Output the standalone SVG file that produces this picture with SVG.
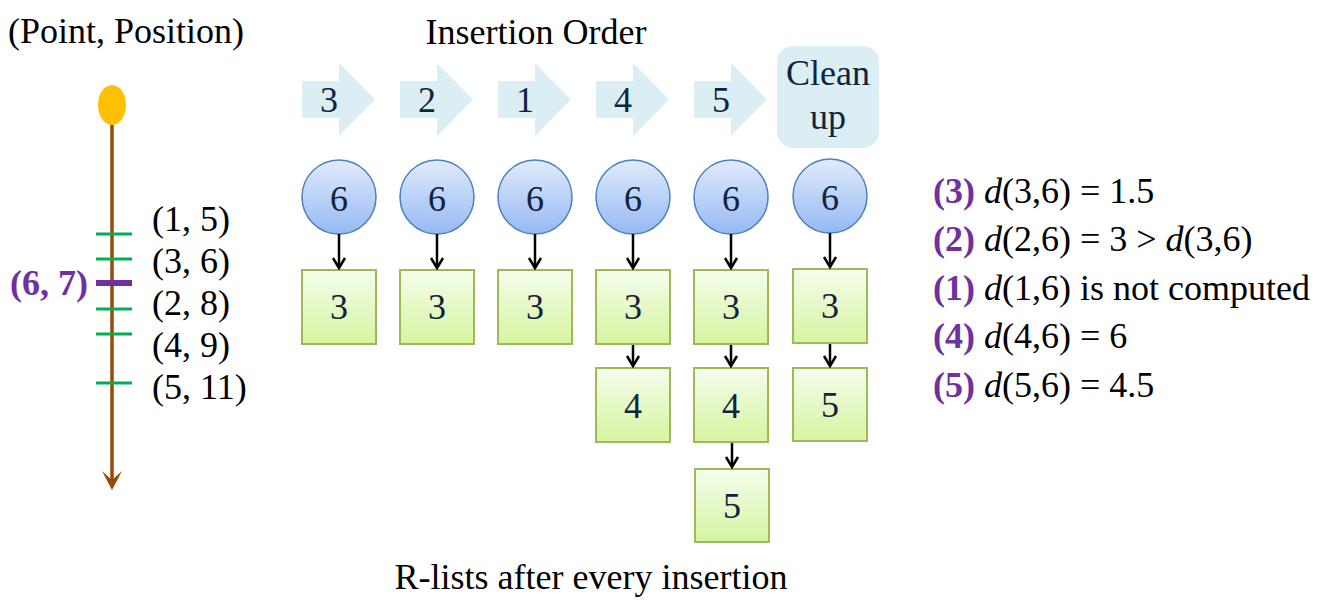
<svg xmlns="http://www.w3.org/2000/svg" width="1329" height="605" viewBox="0 0 1329 605">
<defs>
<linearGradient id="gc" x1="0" y1="0" x2="0" y2="1"><stop offset="0" stop-color="#e1ebfc"/><stop offset="1" stop-color="#95b9f3"/></linearGradient>
<linearGradient id="gs" x1="0" y1="0" x2="0" y2="1"><stop offset="0" stop-color="#f5fdec"/><stop offset="1" stop-color="#d6f4a0"/></linearGradient>
<marker id="ah" viewBox="0 0 14 14" refX="7" refY="12" markerWidth="14" markerHeight="14" markerUnits="userSpaceOnUse" orient="auto-start-reverse">
</marker>
</defs>
<style>
text{font-family:"Liberation Serif","Times New Roman",serif;font-size:36px;fill:#000}
.c{fill:url(#gc);stroke:#4f81bd;stroke-width:1.5}
.s{fill:url(#gs);stroke:#9bbb59;stroke-width:2}
.ar{fill:#daeef3}
.n{text-anchor:middle;fill:#0f243e}
.p{fill:#7030a0;font-weight:bold}
.tick{stroke:#00b050;stroke-width:3}
.cn line,.cn polyline{stroke:#000;stroke-width:2.5;fill:none}
</style>
<rect width="1329" height="605" fill="#fff"/>

<g id="timeline">
<text x="8" y="43">(Point, Position)</text>
<line x1="112" y1="120" x2="112" y2="486" stroke="#984807" stroke-width="3.5"/>
<polygon points="102,471 112,490 122,471 112,480" fill="#984807"/>
<ellipse cx="112" cy="105" rx="14" ry="20" fill="#ffc000"/>
<line class="tick" x1="96" y1="234" x2="132" y2="234"/>
<line class="tick" x1="96" y1="259" x2="132" y2="259"/>
<line x1="96" y1="283" x2="132" y2="283" stroke="#7030a0" stroke-width="6"/>
<line class="tick" x1="96" y1="309" x2="132" y2="309"/>
<line class="tick" x1="96" y1="334" x2="132" y2="334"/>
<line class="tick" x1="96" y1="383" x2="132" y2="383"/>
<text x="152" y="231">(1, 5)</text>
<text x="152" y="273">(3, 6)</text>
<text x="152" y="315">(2, 8)</text>
<text x="152" y="357">(4, 9)</text>
<text x="152" y="399">(5, 11)</text>
<text class="p" x="88" y="295" text-anchor="end">(6, 7)</text>
</g>

<g id="title"><text x="536" y="44" text-anchor="middle">Insertion Order</text></g>

<g id="order">
<path class="ar" d="M302,81H339V63L375,99.5L339,136V118H302Z"/>
<path class="ar" d="M400,81H437V63L473,99.5L437,136V118H400Z"/>
<path class="ar" d="M498,81H535V63L571,99.5L535,136V118H498Z"/>
<path class="ar" d="M596,81H633V63L669,99.5L633,136V118H596Z"/>
<path class="ar" d="M694,81H731V63L767,99.5L731,136V118H694Z"/>
<text class="n" x="329" y="112">3</text>
<text class="n" x="427" y="112">2</text>
<text class="n" x="525" y="112">1</text>
<text class="n" x="623" y="112">4</text>
<text class="n" x="721" y="112">5</text>
<rect class="ar" x="777" y="46" width="102" height="102" rx="16"/>
<text class="n" x="828" y="85">Clean</text>
<text class="n" x="828" y="129">up</text>
</g>

<g id="col1">
<circle class="c" cx="339" cy="197" r="37"/><text class="n" x="339" y="211">6</text>
<rect class="s" x="302" y="270" width="74" height="74"/><text class="n" x="339" y="319">3</text>
</g>
<g id="col2">
<circle class="c" cx="437" cy="197" r="37"/><text class="n" x="437" y="211">6</text>
<rect class="s" x="400" y="270" width="74" height="74"/><text class="n" x="437" y="319">3</text>
</g>
<g id="col3">
<circle class="c" cx="535" cy="197" r="37"/><text class="n" x="535" y="211">6</text>
<rect class="s" x="498" y="270" width="74" height="74"/><text class="n" x="535" y="319">3</text>
</g>
<g id="col4">
<circle class="c" cx="633" cy="197" r="37"/><text class="n" x="633" y="211">6</text>
<rect class="s" x="596" y="270" width="74" height="74"/><text class="n" x="633" y="319">3</text>
<rect class="s" x="596" y="368" width="74" height="74"/><text class="n" x="633" y="418">4</text>
</g>
<g id="col5">
<circle class="c" cx="731" cy="197" r="37"/><text class="n" x="731" y="211">6</text>
<rect class="s" x="694" y="270" width="74" height="74"/><text class="n" x="731" y="319">3</text>
<rect class="s" x="694" y="368" width="74" height="74"/><text class="n" x="731" y="418">4</text>
<rect class="s" x="695" y="469" width="74" height="73"/><text class="n" x="732" y="518">5</text>
</g>
<g id="col6">
<circle class="c" cx="830" cy="196" r="37"/><text class="n" x="830" y="210">6</text>
<rect class="s" x="793" y="269" width="74" height="74"/><text class="n" x="830" y="318">3</text>
<rect class="s" x="793" y="368" width="74" height="73"/><text class="n" x="830" y="417">5</text>
</g>

<g id="connectors" class="cn">
<line x1="339" y1="234" x2="339" y2="268"/><polyline points="333,258 339,268 345,258"/>
<line x1="437" y1="234" x2="437" y2="268"/><polyline points="431,258 437,268 443,258"/>
<line x1="535" y1="234" x2="535" y2="268"/><polyline points="529,258 535,268 541,258"/>
<line x1="633" y1="234" x2="633" y2="268"/><polyline points="627,258 633,268 639,258"/>
<line x1="731" y1="234" x2="731" y2="268"/><polyline points="725,258 731,268 737,258"/>
<line x1="830" y1="233" x2="830" y2="267"/><polyline points="824,257 830,267 836,257"/>
<line x1="633" y1="345" x2="633" y2="366"/><polyline points="627,356 633,366 639,356"/>
<line x1="731" y1="345" x2="731" y2="366"/><polyline points="725,356 731,366 737,356"/>
<line x1="732" y1="443" x2="732" y2="467"/><polyline points="726,457 732,467 738,457"/>
<line x1="830" y1="344" x2="830" y2="366"/><polyline points="824,356 830,366 836,356"/>
</g>

<g id="caption"><text x="591" y="589" text-anchor="middle">R-lists after every insertion</text></g>

<g id="distances">
<text x="933" y="203"><tspan class="p">(3)</tspan> <tspan font-style="italic">d</tspan>(3,6) = 1.5</text>
<text x="933" y="251"><tspan class="p">(2)</tspan> <tspan font-style="italic">d</tspan>(2,6) = 3 &gt; <tspan font-style="italic">d</tspan>(3,6)</text>
<text x="933" y="300"><tspan class="p">(1)</tspan> <tspan font-style="italic">d</tspan>(1,6) is not computed</text>
<text x="933" y="348"><tspan class="p">(4)</tspan> <tspan font-style="italic">d</tspan>(4,6) = 6</text>
<text x="933" y="397"><tspan class="p">(5)</tspan> <tspan font-style="italic">d</tspan>(5,6) = 4.5</text>
</g>
</svg>
